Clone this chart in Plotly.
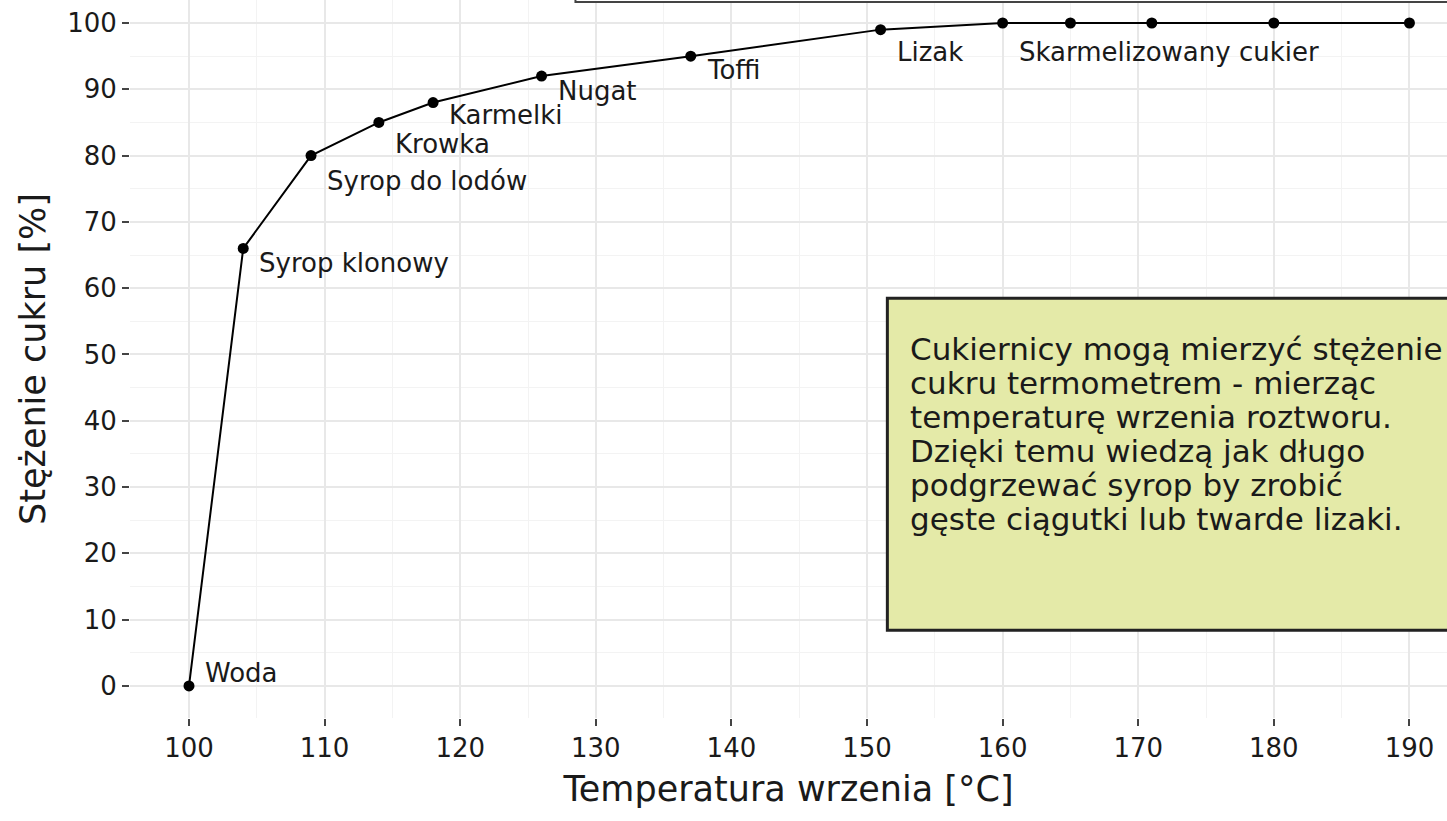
import plotly.graph_objects as go

# boiling temperature [°C] vs sugar concentration [%]
temperatura = [100, 104, 109, 114, 118, 126, 137, 151, 160, 165, 171, 180, 190]
stezenie = [0, 66, 80, 85, 88, 92, 95, 99, 100, 100, 100, 100, 100]
etykiety = ["Woda", "Syrop klonowy", "Syrop do lodów", "Krowka", "Karmelki",
            "Nugat", "Toffi", "Lizak", "Skarmelizowany cukier", "", "", "", ""]

x_ticks = [100, 110, 120, 130, 140, 150, 160, 170, 180, 190]
y_ticks = [0, 10, 20, 30, 40, 50, 60, 70, 80, 90, 100]

note_lines = [
    "Cukiernicy mogą mierzyć stężenie",
    "cukru termometrem - mierząc",
    "temperaturę wrzenia roztworu.",
    "Dzięki temu wiedzą jak długo",
    "podgrzewać syrop by zrobić",
    "gęste ciągutki lub twarde lizaki.",
]

# label nudges in pixels (label centre relative to its point, + is down)
label_dy = [-13, 15, 25, 22, 12, 15, 14, 22, 29, 0, 0, 0, 0]

FONT = "DejaVu Sans"
INK = "#1a1a1a"

fig = go.Figure()
fig.add_trace(
    go.Scatter(
        x=temperatura,
        y=stezenie,
        mode="lines+markers",
        line={"color": "black", "width": 2},
        marker={"color": "black", "size": 11},
        hoverinfo="x+y",
        showlegend=False,
    )
)

for x, y, txt, dy in zip(temperatura, stezenie, etykiety, label_dy):
    if not txt:
        continue
    fig.add_annotation(
        x=x, y=y, text=txt, showarrow=False,
        xanchor="left", yanchor="middle",
        xshift=14, yshift=-dy,
        font={"family": FONT, "size": 26, "color": INK},
    )

# note box (right side, cut off by the page edge)
fig.add_shape(
    type="rect", xref="x", yref="y",
    x0=151.5, x1=200, y0=8.4, y1=58.5,
    fillcolor="#e4eaa8", line={"color": "#222222", "width": 3},
    layer="above",
)
for i, line in enumerate(note_lines):
    fig.add_annotation(
        x=153.0, y=58.5, text=line, showarrow=False,
        xanchor="left", yanchor="middle",
        yshift=-51 - 34 * i,
        font={"family": FONT, "size": 31, "color": INK},
    )

# bottom edge of the title box at the very top
fig.add_shape(
    type="rect", xref="x", yref="y",
    x0=128.5, x1=200, y0=103.15, y1=110,
    fillcolor="white", line={"color": "#444444", "width": 2},
)

fig.update_xaxes(
    range=[95.65, 192.77],
    tickmode="array", tickvals=x_ticks,
    ticks="outside", ticklen=7, tickwidth=2, tickcolor="#444444",
    tickfont={"family": FONT, "size": 26, "color": INK},
    showgrid=True, gridcolor="#e8e8e8", gridwidth=1.5,
    minor={"dtick": 5, "tick0": 95, "showgrid": True, "gridcolor": "#f3f3f3", "gridwidth": 1},
    zeroline=False, showline=False,
    title={"text": "Temperatura wrzenia [°C]", "font": {"family": FONT, "size": 35, "color": INK},
           "standoff": 14},
)
fig.update_yaxes(
    range=[-4.83, 103.47],
    tickmode="array", tickvals=y_ticks,
    ticks="outside", ticklen=7, tickwidth=2, tickcolor="#444444",
    tickfont={"family": FONT, "size": 26, "color": INK},
    showgrid=True, gridcolor="#e8e8e8", gridwidth=1.5,
    minor={"dtick": 5, "tick0": -5, "showgrid": True, "gridcolor": "#f3f3f3", "gridwidth": 1},
    zeroline=False, showline=False,
    title={"text": "Stężenie cukru [%]", "font": {"family": FONT, "size": 35, "color": INK},
           "standoff": 10},
)

fig.update_layout(
    width=1447,
    height=821,
    margin={"l": 130, "r": 0, "t": 0, "b": 103},
    paper_bgcolor="white",
    plot_bgcolor="white",
    showlegend=False,
)

# drop the default page margin so the figure sits at the window's corner
fig.write_html(
    "out.html",
    config={"displayModeBar": False},
    post_script="document.body.style.margin='0';",
)
